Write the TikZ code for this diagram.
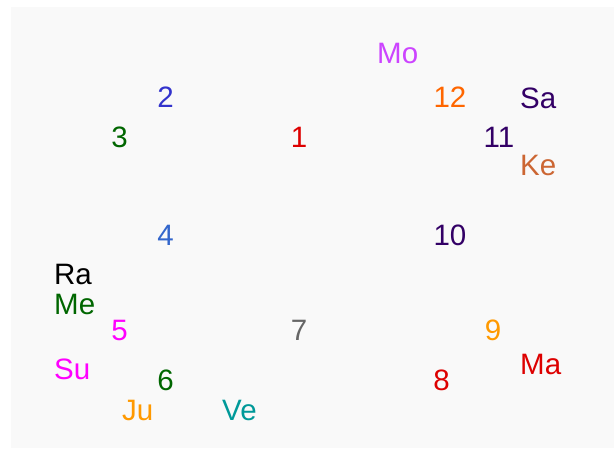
\documentclass[tikz,border=0pt]{standalone}
\usepackage{fontspec}
\setmainfont{Liberation Sans}
\definecolor{bgcol}{HTML}{F9F9F9}
\definecolor{cred}{HTML}{DD0000}
\definecolor{cblue}{HTML}{3333CC}
\definecolor{cblueb}{HTML}{3366CC}
\definecolor{cgreen}{HTML}{006600}
\definecolor{cpurple}{HTML}{330066}
\definecolor{corange}{HTML}{FF6600}
\definecolor{camber}{HTML}{FF9900}
\definecolor{cmagenta}{HTML}{FF00FF}
\definecolor{cviolet}{HTML}{CC44FF}
\definecolor{cgray}{HTML}{666666}
\definecolor{csienna}{HTML}{CC6633}
\definecolor{cteal}{HTML}{009999}
\tikzset{
  house/.style={anchor=base, inner sep=0pt},
  graha/.style={anchor=base west, inner sep=0pt}
}
\begin{document}
\begin{tikzpicture}[x=1pt, y=-1pt, font=\fontsize{29.5}{30}\selectfont]
				\def\lx{54} \def\rx{520}
				\useasboundingbox (0,0) rectangle (614,448);
				\fill[bgcol] (11,7) rectangle (614,448);
				% house numbers
				\foreach \n/\x/\y/\c in {1/299/147/cred, 2/165.5/107/cblue, 3/119.5/147/cgreen,
					4/165.5/245/cblueb, 5/119.5/340/cmagenta, 6/165.5/390/cgreen,
					7/299/340/cgray, 8/441.5/390/cred, 9/493/340/camber,
					10/450/245/cpurple, 11/499/147/cpurple, 12/450/107/corange}
					\node[house, text=\c] (h\n) at (\x,\y) {\n};
				% planets
				\node[graha, text=cviolet] (mo) at (377,63) {Mo};
				\node[graha, text=cpurple] (sa) at (\rx,108) {Sa};
				\node[graha, text=csienna] (ke) at (\rx,175) {Ke};
				\node[graha, text=cred] (ma) at (\rx,374) {Ma};
				\node[graha, text=black] (ra) at (\lx,284) {Ra};
				\node[graha, text=cgreen] (me) at (\lx,314) {Me};
				\node[graha, text=cmagenta] (su) at (\lx,379) {Su};
				\node[graha, text=camber] (ju) at (122,420) {Ju};
				\node[graha, text=cteal] (ve) at (222,420) {Ve};
\end{tikzpicture}
\end{document}
